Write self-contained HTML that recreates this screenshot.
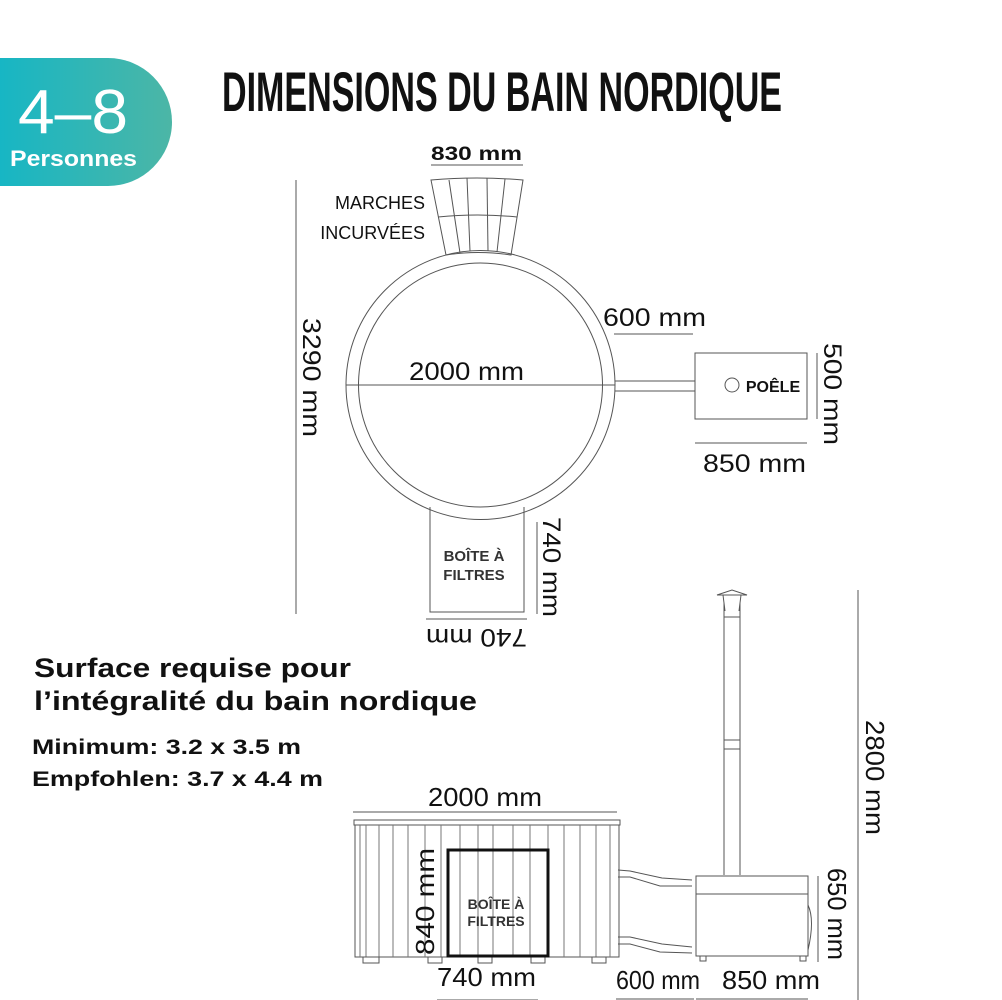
<!DOCTYPE html>
<html><head><meta charset="utf-8"><style>
html,body{margin:0;padding:0;background:#fff;}
svg{display:block;}
text{font-family:"Liberation Sans",sans-serif;}
</style></head><body>
<svg width="1002" height="1000" viewBox="0 0 1002 1000" xmlns="http://www.w3.org/2000/svg">
<defs><linearGradient id="g" x1="0" x2="1"><stop offset="0" stop-color="#17b6c4"/><stop offset="1" stop-color="#4cb6a6"/></linearGradient></defs>
<!-- badge -->
<path d="M0 58 H108 A64 64 0 0 1 108 186 H0 Z" fill="url(#g)"/>
<text x="18" y="133" font-size="62" fill="#fff" textLength="110" lengthAdjust="spacingAndGlyphs">4–8</text>
<text x="10" y="166" font-size="22" fill="#fff" font-weight="bold" textLength="127" lengthAdjust="spacingAndGlyphs">Personnes</text>
<!-- title -->
<text x="222" y="111" font-size="56" font-weight="bold" fill="#111" textLength="560" lengthAdjust="spacingAndGlyphs">DIMENSIONS DU BAIN NORDIQUE</text>

<g stroke="#555" fill="none" stroke-width="1">
<path d="M431 180 Q477 176 523 180 L511 255 Q478 250 446 255 Z"/>
<path d="M438 217 Q478 213 517 217"/>
<line x1="449" y1="180" x2="460" y2="253"/><line x1="467" y1="178" x2="470" y2="251"/><line x1="487" y1="178" x2="488" y2="251"/><line x1="505" y1="179" x2="497" y2="252"/>
<circle cx="480.5" cy="385" r="134.5"/>
<circle cx="480.5" cy="385" r="122"/>
<line x1="346" y1="385" x2="615" y2="385"/>
<line x1="615" y1="381" x2="695" y2="381"/><line x1="615" y1="391" x2="695" y2="391"/>
<rect x="695" y="353" width="112" height="66"/>
<circle cx="732" cy="385" r="7"/>
<path d="M430 507 V612 H524 V507"/>
<line x1="296" y1="180" x2="296" y2="614"/>
<line x1="431" y1="165" x2="523" y2="165"/>
<line x1="614" y1="334" x2="693" y2="334"/>
<line x1="695" y1="443" x2="807" y2="443"/>
<line x1="817" y1="353" x2="817" y2="419"/>
<line x1="537" y1="522" x2="537" y2="614"/>
<line x1="426" y1="619" x2="527" y2="619"/>
<line x1="858" y1="590" x2="858" y2="830"/>
</g>
<text x="431" y="160" font-size="19" font-weight="bold" fill="#111" textLength="91" lengthAdjust="spacingAndGlyphs">830 mm</text>
<text x="425" y="209" font-size="18" fill="#111" text-anchor="end">MARCHES</text>
<text x="425" y="239" font-size="18" fill="#111" text-anchor="end">INCURVÉES</text>
<text x="409" y="380" font-size="25" fill="#111" textLength="115" lengthAdjust="spacingAndGlyphs">2000 mm</text>
<text x="603" y="326" font-size="25" fill="#111" textLength="103" lengthAdjust="spacingAndGlyphs">600 mm</text>
<text x="773" y="392" font-size="16" font-weight="bold" fill="#111" text-anchor="middle">POÊLE</text>
<text x="703" y="472" font-size="25" fill="#111" textLength="103" lengthAdjust="spacingAndGlyphs">850 mm</text>
<text transform="translate(824 343) rotate(90)" font-size="25" fill="#111" textLength="102" lengthAdjust="spacingAndGlyphs">500 mm</text>
<text transform="translate(303 318) rotate(90)" font-size="25" fill="#111" textLength="119" lengthAdjust="spacingAndGlyphs">3290 mm</text>
<text x="474" y="561" font-size="15" font-weight="bold" fill="#333" text-anchor="middle">BOÎTE À</text>
<text x="474" y="580" font-size="15" font-weight="bold" fill="#333" text-anchor="middle">FILTRES</text>
<text transform="translate(543 517) rotate(90)" font-size="25" fill="#111" textLength="100" lengthAdjust="spacingAndGlyphs">740 mm</text>
<text transform="translate(527 629) rotate(180)" font-size="25" fill="#111" textLength="101" lengthAdjust="spacingAndGlyphs">740 mm</text>

<text x="34" y="677" font-size="27" font-weight="bold" fill="#111" textLength="317" lengthAdjust="spacingAndGlyphs">Surface requise pour</text>
<text x="34" y="710" font-size="27" font-weight="bold" fill="#111" textLength="443" lengthAdjust="spacingAndGlyphs">l’intégralité du bain nordique</text>
<text x="32" y="754" font-size="21" font-weight="bold" fill="#111" textLength="269" lengthAdjust="spacingAndGlyphs">Minimum: 3.2 x 3.5 m</text>
<text x="32" y="786" font-size="21" font-weight="bold" fill="#111" textLength="291" lengthAdjust="spacingAndGlyphs">Empfohlen:  3.7 x 4.4 m</text>

<g stroke="#555" fill="none" stroke-width="1">
<line x1="353" y1="812" x2="617" y2="812"/>
<rect x="354" y="820" width="266" height="5"/>
<rect x="355" y="825" width="264" height="132"/>
<g stroke="#777">
<line x1="360" y1="825" x2="360" y2="957"/><line x1="366" y1="825" x2="366" y2="957"/><line x1="379" y1="825" x2="379" y2="957"/><line x1="393" y1="825" x2="393" y2="957"/><line x1="408" y1="825" x2="408" y2="957"/><line x1="425" y1="825" x2="425" y2="957"/><line x1="441" y1="825" x2="441" y2="957"/><line x1="460" y1="825" x2="460" y2="957"/><line x1="478" y1="825" x2="478" y2="957"/><line x1="493" y1="825" x2="493" y2="957"/><line x1="513" y1="825" x2="513" y2="957"/><line x1="530" y1="825" x2="530" y2="957"/><line x1="548" y1="825" x2="548" y2="957"/><line x1="564" y1="825" x2="564" y2="957"/><line x1="580" y1="825" x2="580" y2="957"/><line x1="596" y1="825" x2="596" y2="957"/><line x1="610" y1="825" x2="610" y2="957"/>
</g>
<rect x="363" y="957" width="16" height="6"/><rect x="428" y="957" width="14" height="6"/><rect x="478" y="957" width="14" height="6"/><rect x="531" y="957" width="14" height="6"/><rect x="592" y="957" width="14" height="6"/>
<line x1="437" y1="1000" x2="538" y2="1000"/>
<path d="M618 870 L630 871 L662 878 L692 880 M618 877 L630 877 L660 886 L692 886"/>
<path d="M618 937 L630 937 L662 944 L692 947 M618 944 L630 944 L660 952 L692 953"/>
<line x1="724" y1="603" x2="724" y2="875"/><line x1="740" y1="603" x2="740" y2="875"/>
<path d="M717 595 L732 590 L747 595 Z"/>
<line x1="723" y1="595" x2="725" y2="611"/><line x1="741" y1="595" x2="739" y2="611"/>
<line x1="724" y1="617" x2="740" y2="617"/><line x1="724" y1="740" x2="740" y2="740"/><line x1="724" y1="749" x2="740" y2="749"/>
<rect x="696" y="876" width="112" height="80"/>
<line x1="696" y1="894" x2="808" y2="894"/>
<path d="M808 905 Q815 920 808 950"/>
<rect x="700" y="956" width="6" height="5"/><rect x="800" y="956" width="6" height="5"/>
<line x1="616" y1="999" x2="694" y2="999"/><line x1="696" y1="999" x2="808" y2="999"/>
<line x1="818" y1="876" x2="818" y2="962"/>
<line x1="858" y1="830" x2="858" y2="1000"/>
</g>
<rect x="448" y="850" width="100" height="106" fill="none" stroke="#111" stroke-width="3"/>
<text x="428" y="806" font-size="26" fill="#111" textLength="114" lengthAdjust="spacingAndGlyphs">2000 mm</text>
<text x="496" y="909" font-size="14" font-weight="bold" fill="#333" text-anchor="middle">BOÎTE À</text>
<text x="496" y="926" font-size="14" font-weight="bold" fill="#333" text-anchor="middle">FILTRES</text>
<text transform="translate(434 955) rotate(-90)" font-size="26" fill="#111" textLength="107" lengthAdjust="spacingAndGlyphs">840 mm</text>
<text x="437" y="986" font-size="26" fill="#111" textLength="99" lengthAdjust="spacingAndGlyphs">740 mm</text>
<text x="616" y="989" font-size="26" fill="#111" textLength="84" lengthAdjust="spacingAndGlyphs">600 mm</text>
<text x="722" y="989" font-size="26" fill="#111" textLength="98" lengthAdjust="spacingAndGlyphs">850 mm</text>
<text transform="translate(828 868) rotate(90)" font-size="26" fill="#111" textLength="92" lengthAdjust="spacingAndGlyphs">650 mm</text>
<text transform="translate(866 720) rotate(90)" font-size="26" fill="#111" textLength="115" lengthAdjust="spacingAndGlyphs">2800 mm</text>
</svg>
</body></html>
